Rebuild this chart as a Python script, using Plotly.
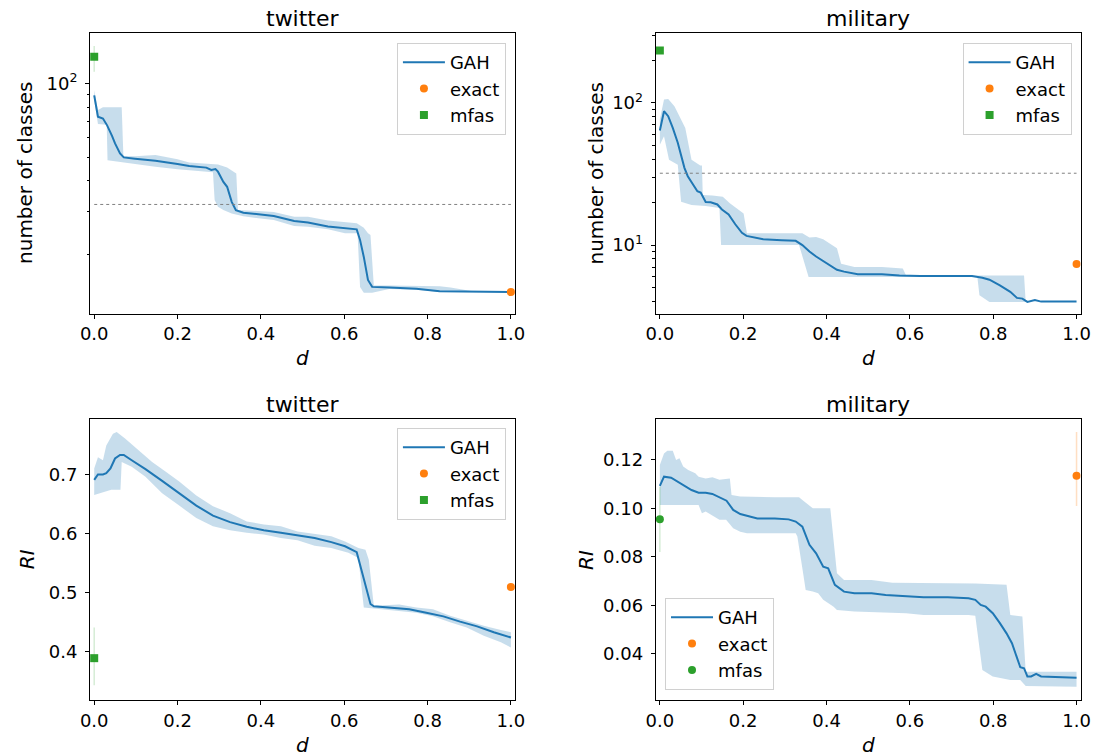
import plotly.graph_objects as go

# ---------------- data ----------------
# twitter / number of classes
tw_cls_d = [0, 0.009, 0.021, 0.031, 0.043, 0.05, 0.062, 0.071, 0.098, 0.147, 0.2, 0.228, 0.269, 0.281, 0.291,
            0.297, 0.31, 0.319, 0.33, 0.34, 0.358, 0.399, 0.431, 0.48, 0.513, 0.561, 0.602, 0.63, 0.638, 0.647,
            0.657, 0.667, 0.708, 0.773, 0.829, 0.919, 1.0]
tw_cls_gah = [89.6, 73.2, 72.0, 67.5, 61.0, 56.9, 51.8, 49.9, 49.3, 48.3, 46.9, 46.0, 45.3, 44.3, 44.7,
              43.6, 39.6, 37.8, 32.8, 30.3, 29.6, 29.1, 28.7, 27.4, 27.0, 26.0, 25.6, 25.3, 22.9, 19.5,
              15.7, 14.7, 14.6, 14.45, 14.1, 14.0, 14.0]
tw_cls_hi_d = [0, 0.009, 0.021, 0.066, 0.070, 0.098, 0.147, 0.2, 0.228, 0.269, 0.297, 0.319, 0.33, 0.341,
               0.345, 0.358, 0.399, 0.431, 0.48, 0.513, 0.561, 0.602, 0.63, 0.647, 0.657, 0.663, 0.671,
               0.708, 0.773, 0.829, 0.855, 0.919, 1.0]
tw_cls_hi = [94, 78, 80, 80, 50.6, 50.4, 51.0, 49.0, 47.5, 47.0, 46.6, 45.4, 44.3, 42.9,
             30.4, 30.3, 30.1, 29.8, 28.5, 28.5, 27.5, 27.0, 26.8, 25.7, 24.4, 24.0, 14.9,
             14.9, 14.9, 14.8, 14.6, 14.0, 14.0]
tw_cls_lo_d = [0, 0.009, 0.030, 0.032, 0.05, 0.071, 0.098, 0.147, 0.2, 0.228, 0.269, 0.285, 0.289, 0.297,
               0.31, 0.319, 0.33, 0.358, 0.399, 0.431, 0.48, 0.513, 0.561, 0.602, 0.632, 0.638, 0.647,
               0.667, 0.708, 0.773, 0.829, 0.86, 0.919, 1.0]
tw_cls_lo = [85.8, 68.3, 67.9, 48.6, 48.0, 47.5, 47.0, 45.7, 44.6, 44.0, 43.6, 43.4, 33.4, 31.3,
             30.4, 29.9, 29.4, 28.6, 28.1, 27.6, 26.1, 25.9, 25.3, 24.4, 24.4, 14.7, 13.9,
             13.9, 14.4, 14.3, 14.0, 13.95, 14.0, 14.0]
tw_cls_exact = [14.0]
tw_cls_exact_err = [0.0]
tw_cls_mfas = [129.0]
tw_cls_mfas_err_plus = [13.7]
tw_cls_mfas_err_minus = [17.0]

# military / number of classes
mil_cls_d = [0, 0.010, 0.020, 0.031, 0.043, 0.051, 0.059, 0.067, 0.079, 0.09, 0.098, 0.11, 0.122, 0.138,
             0.149, 0.165, 0.181, 0.197, 0.208, 0.224, 0.248, 0.292, 0.326, 0.342, 0.359, 0.375, 0.392,
             0.404, 0.425, 0.442, 0.475, 0.533, 0.575, 0.625, 0.749, 0.774, 0.791, 0.816, 0.841, 0.857,
             0.87, 0.882, 0.9, 0.915, 1.0]
mil_cls_gah = [64.0, 87.4, 80.6, 66.7, 52.4, 43.4, 34.9, 30.5, 26.7, 23.9, 23.4, 20.1, 20.0, 19.3,
               17.8, 16.4, 14.0, 12.2, 11.6, 11.3, 11.0, 10.8, 10.7, 10.0, 9.0, 8.3, 7.7,
               7.4, 6.7, 6.5, 6.24, 6.24, 6.1, 6.05, 6.05, 5.88, 5.7, 5.2, 4.69, 4.25,
               4.2, 3.98, 4.1, 4.0, 4.0]
mil_cls_hi_d = [0, 0.01, 0.02, 0.035, 0.047, 0.061, 0.076, 0.097, 0.101, 0.103, 0.126, 0.151, 0.168,
                0.189, 0.201, 0.209, 0.243, 0.342, 0.359, 0.375, 0.392, 0.425, 0.435, 0.467, 0.533,
                0.583, 0.591, 0.874, 0.878, 1.0]
mil_cls_hi = [76.3, 105.6, 106.7, 94.7, 80.5, 66.7, 39.8, 36.3, 36.3, 22.5, 22.3, 21.9, 19.7,
              17.7, 16.7, 12.1, 12.1, 12.1, 11.3, 11.4, 11.0, 9.5, 7.4, 7.0, 7.0,
              6.84, 6.1, 6.1, 3.98, 3.98]
mil_cls_lo_d = [0, 0.01, 0.022, 0.043, 0.051, 0.076, 0.11, 0.143, 0.147, 0.334, 0.357, 0.762, 0.767,
                0.791, 1.0]
mil_cls_lo = [50.8, 58.2, 39.8, 36.7, 20.2, 19.1, 18.8, 18.2, 10.0, 10.0, 5.97, 5.97, 4.43,
              3.98, 3.98]
mil_cls_exact = [7.35]
mil_cls_exact_err = [0.0]
mil_cls_mfas = [234.0]
mil_cls_mfas_err_plus = [8.0]
mil_cls_mfas_err_minus = [8.0]

# twitter / RI
tw_ri_d = [0, 0.009, 0.021, 0.029, 0.039, 0.05, 0.062, 0.071, 0.09, 0.123, 0.163, 0.204, 0.245, 0.285,
           0.326, 0.366, 0.407, 0.448, 0.488, 0.529, 0.569, 0.602, 0.63, 0.643, 0.655, 0.663, 0.671,
           0.716, 0.756, 0.797, 0.838, 0.878, 0.919, 0.959, 1.0]
tw_ri_gah = [0.6916, 0.701, 0.701, 0.703, 0.711, 0.728, 0.734, 0.734, 0.725, 0.710, 0.690, 0.669, 0.648,
             0.631, 0.620, 0.612, 0.606, 0.602, 0.597, 0.593, 0.586, 0.579, 0.569, 0.534, 0.500, 0.481,
             0.477, 0.474, 0.472, 0.466, 0.460, 0.451, 0.443, 0.433, 0.424]
tw_ri_hi_d = [0, 0.009, 0.021, 0.029, 0.045, 0.054, 0.074, 0.106, 0.139, 0.171, 0.204, 0.245, 0.285,
              0.326, 0.366, 0.407, 0.448, 0.488, 0.529, 0.569, 0.602, 0.634, 0.651, 0.659, 0.671, 0.732,
              0.773, 0.813, 0.854, 0.894, 0.935, 0.976, 1.0]
tw_ri_hi = [0.711, 0.730, 0.725, 0.750, 0.770, 0.773, 0.762, 0.742, 0.722, 0.706, 0.689, 0.665, 0.647,
            0.635, 0.621, 0.616, 0.613, 0.604, 0.600, 0.596, 0.587, 0.576, 0.573, 0.556, 0.478, 0.480,
            0.475, 0.472, 0.461, 0.452, 0.444, 0.437, 0.433]
tw_ri_lo_d = [0, 0.009, 0.041, 0.063, 0.066, 0.09, 0.123, 0.163, 0.204, 0.245, 0.285, 0.326, 0.366,
              0.407, 0.448, 0.488, 0.529, 0.569, 0.61, 0.634, 0.643, 0.647, 0.691, 0.773, 0.813, 0.854,
              0.894, 0.935, 0.976, 1.0]
tw_ri_lo = [0.666, 0.669, 0.675, 0.675, 0.722, 0.714, 0.697, 0.669, 0.648, 0.627, 0.613, 0.606, 0.602,
            0.599, 0.593, 0.589, 0.580, 0.576, 0.568, 0.559, 0.500, 0.475, 0.472, 0.466, 0.460, 0.450,
            0.441, 0.427, 0.416, 0.407]
tw_ri_exact = [0.510]
tw_ri_exact_err = [0.0]
tw_ri_mfas = [0.389]
tw_ri_mfas_err_plus = [0.052]
tw_ri_mfas_err_minus = [0.046]

# military / RI
mil_ri_d = [0, 0.01, 0.027, 0.043, 0.06, 0.076, 0.093, 0.11, 0.126, 0.143, 0.16, 0.176, 0.193, 0.218,
            0.234, 0.276, 0.309, 0.326, 0.342, 0.359, 0.375, 0.392, 0.404, 0.42, 0.442, 0.467, 0.508,
            0.542, 0.591, 0.633, 0.691, 0.741, 0.757, 0.77, 0.782, 0.799, 0.816, 0.832, 0.845, 0.857,
            0.865, 0.874, 0.882, 0.891, 0.903, 0.915, 1.0]
mil_ri_gah = [0.1093, 0.1131, 0.1127, 0.1111, 0.1093, 0.1076, 0.1065, 0.1065, 0.1060, 0.1046, 0.1032,
              0.0994, 0.0977, 0.0966, 0.0959, 0.0959, 0.0955, 0.0946, 0.0925, 0.0850, 0.0815, 0.0760,
              0.0753, 0.0685, 0.0657, 0.0650, 0.0650, 0.0643, 0.0639, 0.0634, 0.0634, 0.0630, 0.0623,
              0.0602, 0.0595, 0.0568, 0.0527, 0.0485, 0.0444, 0.0382, 0.0345, 0.0341, 0.0307, 0.0307,
              0.0318, 0.0307, 0.0302]
mil_ri_hi_d = [0, 0.01, 0.018, 0.031, 0.039, 0.047, 0.056, 0.068, 0.085, 0.093, 0.11, 0.126, 0.143,
               0.168, 0.172, 0.193, 0.276, 0.334, 0.342, 0.367, 0.409, 0.425, 0.442, 0.508, 0.558,
               0.757, 0.832, 0.841, 0.87, 0.878, 1.0]
mil_ri_hi = [0.1179, 0.1227, 0.1238, 0.1238, 0.1200, 0.1207, 0.1173, 0.1159, 0.1145, 0.1131, 0.1124,
             0.1129, 0.1118, 0.1124, 0.1056, 0.1049, 0.1046, 0.1046, 0.1035, 0.1001, 0.1001, 0.0733,
             0.0705, 0.0705, 0.0694, 0.0691, 0.0685, 0.0561, 0.0554, 0.0327, 0.0327]
mil_ri_lo_d = [0, 0.093, 0.101, 0.11, 0.143, 0.159, 0.176, 0.193, 0.209, 0.326, 0.33, 0.342, 0.35,
               0.367, 0.38, 0.392, 0.417, 0.425, 0.467, 0.591, 0.633, 0.741, 0.757, 0.766, 0.774,
               0.799, 0.841, 0.865, 0.878, 1.0]
mil_ri_lo = [0.1014, 0.1014, 0.0980, 0.0987, 0.0953, 0.0953, 0.0918, 0.0904, 0.0898, 0.0898, 0.0884,
             0.0753, 0.0664, 0.0657, 0.0650, 0.0623, 0.0595, 0.0581, 0.0575, 0.0568, 0.0561, 0.0561,
             0.0557, 0.0444, 0.0334, 0.0307, 0.0293, 0.0293, 0.0268, 0.0265]
mil_ri_exact = [0.1135]
mil_ri_exact_err_plus = [0.018]
mil_ri_exact_err_minus = [0.0125]
mil_ri_mfas = [0.0955]
mil_ri_mfas_err = [0.0135]

exact_d = [1.0]
mfas_d = [0.0]
ref_d = [0.0, 1.0]
ref_classes = [32, 32]

series_names = ["GAH", "exact", "mfas"]
titles = ["twitter", "military", "twitter", "military"]
x_ticks = [0.0, 0.2, 0.4, 0.6, 0.8, 1.0]

# ---------------- styling ----------------
FONT = "DejaVu Sans"
BLUE = "#1f77b4"
ORANGE = "#ff7f0e"
GREEN = "#2ca02c"
BAND = "rgba(31,119,180,0.25)"
W, H = 1113, 756

fig = go.Figure()


def add_panel(n, d, gah, hi_d, hi, lo_d, lo, ex, ex_p, ex_m, mf, mf_p, mf_m, mf_symbol, ref=None):
    xa = "x" if n == 1 else f"x{n}"
    ya = "y" if n == 1 else f"y{n}"
    leg = "legend" if n == 1 else f"legend{n}"
    fig.add_trace(go.Scatter(x=list(hi_d) + list(lo_d)[::-1], y=list(hi) + list(lo)[::-1],
                             fill="toself", fillcolor=BAND, mode="lines", line=dict(width=0),
                             showlegend=False, hoverinfo="skip", xaxis=xa, yaxis=ya))
    fig.add_trace(go.Scatter(x=d, y=gah, mode="lines", line=dict(color=BLUE, width=2),
                             name=series_names[0], legend=leg, legendgroup=f"g{n}a",
                             xaxis=xa, yaxis=ya))
    fig.add_trace(go.Scatter(x=exact_d, y=ex, mode="markers",
                             marker=dict(color=ORANGE, size=8, symbol="circle"),
                             error_y=dict(type="data", array=ex_p, arrayminus=ex_m,
                                          color="rgba(255,127,14,0.25)", thickness=1.5, width=0),
                             name=series_names[1], legend=leg, legendgroup=f"g{n}b",
                             xaxis=xa, yaxis=ya))
    fig.add_trace(go.Scatter(x=mfas_d, y=mf, mode="markers",
                             marker=dict(color=GREEN, size=8, symbol=mf_symbol),
                             error_y=dict(type="data", array=mf_p, arrayminus=mf_m,
                                          color="rgba(44,160,44,0.2)", thickness=1.5, width=0),
                             name=series_names[2], legend=leg, legendgroup=f"g{n}c",
                             xaxis=xa, yaxis=ya))
    if ref is not None:
        fig.add_trace(go.Scatter(x=ref_d, y=ref, mode="lines",
                                 line=dict(color="#808080", width=1, dash="dot"),
                                 showlegend=False, hoverinfo="skip", xaxis=xa, yaxis=ya))


add_panel(1, tw_cls_d, tw_cls_gah, tw_cls_hi_d, tw_cls_hi, tw_cls_lo_d, tw_cls_lo,
          tw_cls_exact, tw_cls_exact_err, tw_cls_exact_err,
          tw_cls_mfas, tw_cls_mfas_err_plus, tw_cls_mfas_err_minus, "square", ref_classes)
add_panel(2, mil_cls_d, mil_cls_gah, mil_cls_hi_d, mil_cls_hi, mil_cls_lo_d, mil_cls_lo,
          mil_cls_exact, mil_cls_exact_err, mil_cls_exact_err,
          mil_cls_mfas, mil_cls_mfas_err_plus, mil_cls_mfas_err_minus, "square", ref_classes)
add_panel(3, tw_ri_d, tw_ri_gah, tw_ri_hi_d, tw_ri_hi, tw_ri_lo_d, tw_ri_lo,
          tw_ri_exact, tw_ri_exact_err, tw_ri_exact_err,
          tw_ri_mfas, tw_ri_mfas_err_plus, tw_ri_mfas_err_minus, "square")
add_panel(4, mil_ri_d, mil_ri_gah, mil_ri_hi_d, mil_ri_hi, mil_ri_lo_d, mil_ri_lo,
          mil_ri_exact, mil_ri_exact_err_plus, mil_ri_exact_err_minus,
          mil_ri_mfas, mil_ri_mfas_err, mil_ri_mfas_err, "circle")

# ---------------- layout ----------------
col_px = [(81.5, 514.3), (657.5, 1090.3)]
row_px = [(32.8, 313.7), (419.0, 700.0)]


def xdom(c):
    return [col_px[c][0] / W, col_px[c][1] / W]


def ydom(r):
    return [(H - row_px[r][1]) / H, (H - row_px[r][0]) / H]


tickfont = dict(family=FONT, size=18, color="black")
common_x = dict(range=[-0.01, 1.01], tickvals=x_ticks, tickformat=".1f", ticks="outside", ticklen=4,
                tickwidth=1, tickcolor="black", showline=True, linecolor="black", linewidth=1,
                mirror=True, showgrid=False, zeroline=False, tickfont=tickfont)
common_y = dict(ticks="outside", ticklen=4, tickwidth=1, tickcolor="black", showline=True,
                linecolor="black", linewidth=1, mirror=True, showgrid=False, zeroline=False,
                tickfont=tickfont, ticklabelstandoff=4)

layout = dict(width=W, height=H, margin=dict(l=0, r=0, t=0, b=0), autosize=False,
              paper_bgcolor="white", plot_bgcolor="white",
              font=dict(family=FONT, size=18, color="black"), showlegend=True)

layout["xaxis"] = dict(domain=xdom(0), anchor="y", **common_x)
layout["xaxis2"] = dict(domain=xdom(1), anchor="y2", **common_x)
layout["xaxis3"] = dict(domain=xdom(0), anchor="y3", **common_x)
layout["xaxis4"] = dict(domain=xdom(1), anchor="y4", **common_x)

layout["yaxis"] = dict(domain=ydom(0), anchor="x", type="log", range=[1.0574, 2.2086],
                       tickvals=[100], ticktext=["10<sup>2</sup>"],
                       minor=dict(tickvals=[20, 30, 40, 50, 60, 70, 80, 90], ticks="outside",
                                  ticklen=2.5, tickwidth=0.8, tickcolor="black"),
                       **common_y)
layout["yaxis2"] = dict(domain=ydom(0), anchor="x2", type="log", range=[0.517, 2.493],
                        tickvals=[10, 100], ticktext=["10<sup>1</sup>", "10<sup>2</sup>"],
                        minor=dict(tickvals=[4, 5, 6, 7, 8, 9, 20, 30, 40, 50, 60, 70, 80, 90, 200, 300],
                                   ticks="outside", ticklen=2.5, tickwidth=0.8, tickcolor="black"),
                        **common_y)
layout["yaxis3"] = dict(domain=ydom(1), anchor="x3", range=[0.318, 0.795],
                        tickvals=[0.4, 0.5, 0.6, 0.7], tickformat=".1f", **common_y)
layout["yaxis4"] = dict(domain=ydom(1), anchor="x4", range=[0.021, 0.1369],
                        tickvals=[0.04, 0.06, 0.08, 0.10, 0.12], tickformat=".2f", **common_y)

legend_common = dict(bgcolor="rgba(255,255,255,0.8)", bordercolor="#d0d0d0", borderwidth=1,
                     font=dict(family=FONT, size=18, color="black"), tracegroupgap=6,
                     itemwidth=42, traceorder="normal")
layout["legend"] = dict(x=505 / W, y=1 - 43 / H, xanchor="right", yanchor="top", **legend_common)
layout["legend2"] = dict(x=1081 / W, y=1 - 43 / H, xanchor="right", yanchor="top", **legend_common)
layout["legend3"] = dict(x=505 / W, y=1 - 428 / H, xanchor="right", yanchor="top", **legend_common)
layout["legend4"] = dict(x=667 / W, y=1 - 690 / H, xanchor="left", yanchor="bottom", **legend_common)

fig.update_layout(**layout)

# titles and axis labels
annots = []
title_y = [18, 404]
for i, t in enumerate(titles):
    c, r = i % 2, i // 2
    cx = (col_px[c][0] + col_px[c][1]) / 2
    annots.append(dict(text=t, x=cx / W, y=1 - title_y[r] / H, xref="paper", yref="paper",
                       xanchor="center", yanchor="middle", showarrow=False,
                       font=dict(family=FONT, size=22, color="black")))
xlabel_y = [358, 745]
for r in range(2):
    for c in range(2):
        cx = (col_px[c][0] + col_px[c][1]) / 2
        annots.append(dict(text="<i>d</i>", x=cx / W, y=1 - xlabel_y[r] / H, xref="paper",
                           yref="paper", xanchor="center", yanchor="middle", showarrow=False,
                           font=dict(family=FONT, size=20, color="black")))
ylabels = [("number of classes", 16, 0), ("number of classes", 597, 0),
           ("<i>RI</i>", 17, 1), ("<i>RI</i>", 586, 1)]
for text, px, r in ylabels:
    cy = (row_px[r][0] + row_px[r][1]) / 2
    annots.append(dict(text=text, x=px / W, y=1 - cy / H, xref="paper", yref="paper",
                       xanchor="center", yanchor="middle", textangle=-90, showarrow=False,
                       font=dict(family=FONT, size=20, color="black")))
fig.update_layout(annotations=annots)

fig.write_html("out.html")
